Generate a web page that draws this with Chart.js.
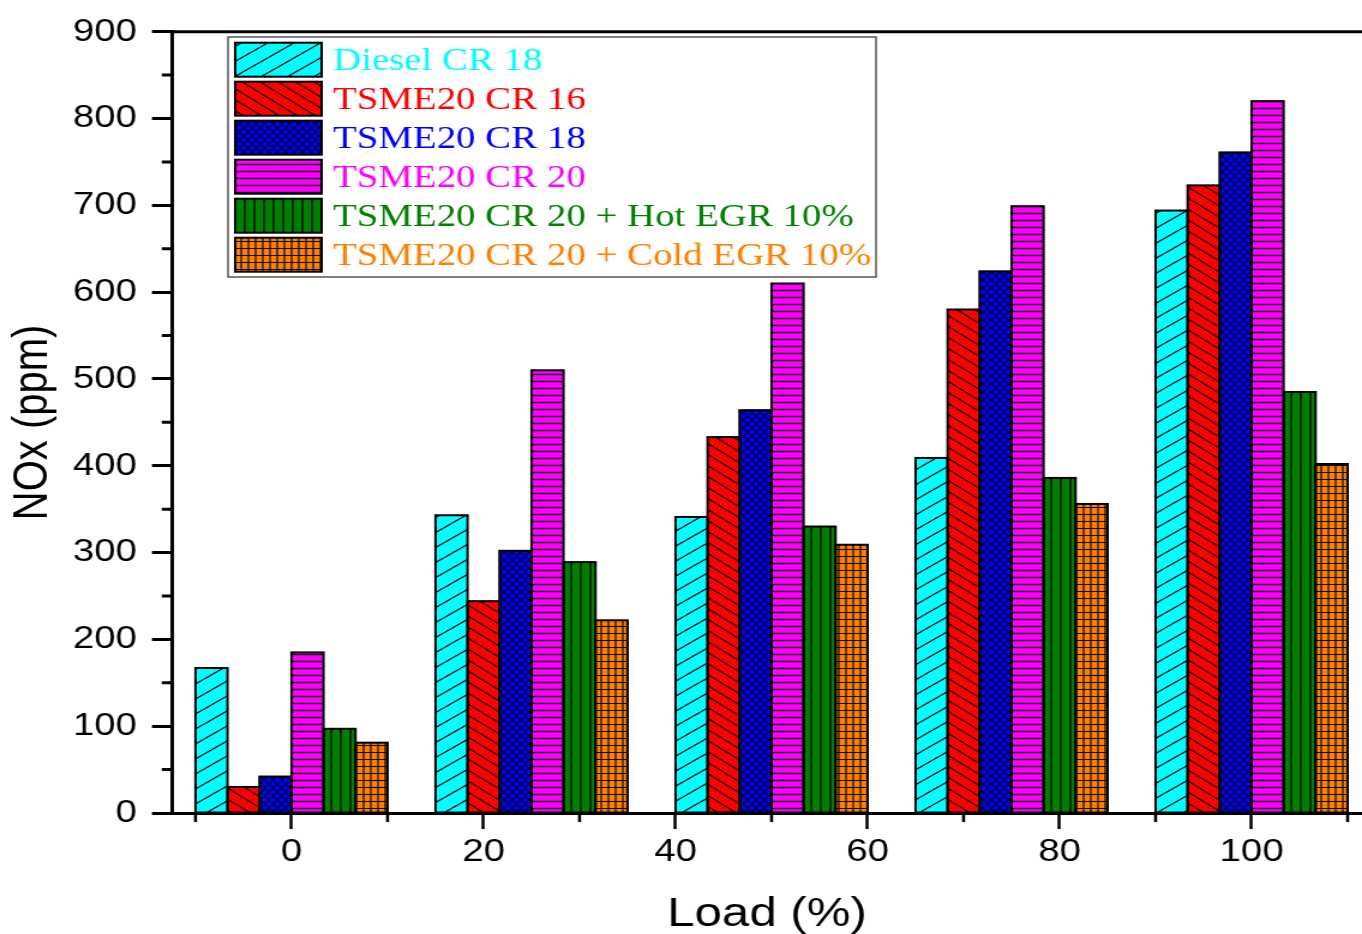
<!DOCTYPE html>
<html><head><meta charset="utf-8">
<script src="https://cdn.jsdelivr.net/npm/chart.js@4.4.0/dist/chart.umd.min.js"></script>
<style>
html,body{margin:0;padding:0;background:#fff;overflow:hidden}
#wrap{width:1135px;height:934px;transform:scale(1.2,1);transform-origin:0 0}
</style></head><body>
<div id="wrap"><canvas id="grafico" width="1135" height="934"></canvas></div>
<script>
// dados (NOx em ppm)
const cargas=[0,25,50,75,100];
const nomes=['Diesel CR 18','TSME20 CR 16','TSME20 CR 18','TSME20 CR 20','TSME20 CR 20 + Hot EGR 10%','TSME20 CR 20 + Cold EGR 10%'];
const dieselCR18=[167,343,341,409,694];
const tsmeCR16=[30,244,433,580,723];
const tsmeCR18=[42,302,464,624,761];
const tsmeCR20=[185,510,610,699,820];
const tsmeHotEGR=[97,289,330,386,485];
const tsmeColdEGR=[81,222,309,356,402];
const ticksX=[0,20,40,60,80,100];
const ticksY=[0,100,200,300,400,500,600,700,800,900];
const minorX=[-10,10,30,50,70,90,110];
const minorY=[50,150,250,350,450,550,650,750,850];

const cores=['#00ffff','#ff0000','#0000ff','#ff00ff','#008000','#ff8000'];

function hachura(cor,w,h,desenha,lw){
  const c=document.createElement('canvas');c.width=w;c.height=h;
  const g=c.getContext('2d');
  g.fillStyle=cor;g.fillRect(0,0,w,h);
  g.strokeStyle='#000';g.lineWidth=lw||1.15;
  g.beginPath();desenha(g,w,h);g.stroke();
  return g.createPattern(c,'repeat');
}
const barra=(g,w,h)=>{for(let dx=-w;dx<=w;dx+=w)for(let dy=-h;dy<=h;dy+=h){g.moveTo(dx,h+dy);g.lineTo(dx+w,dy);}};
const contra=(g,w,h)=>{for(let dx=-w;dx<=w;dx+=w)for(let dy=-h;dy<=h;dy+=h){g.moveTo(dx,dy);g.lineTo(dx+w,h+dy);}};
const padroes=[
  hachura(cores[0],22,15,barra),
  hachura(cores[1],15,11,contra),
  hachura(cores[2],7,8,(g,w,h)=>{barra(g,w,h);contra(g,w,h);}),
  hachura(cores[3],4,7,(g,w,h)=>{g.moveTo(0,3.5);g.lineTo(w,3.5);},1.4),
  hachura(cores[4],8,4,(g,w,h)=>{g.moveTo(4,0);g.lineTo(4,h);},1.3),
  hachura(cores[5],6,7,(g,w,h)=>{g.moveTo(3,0);g.lineTo(3,h);g.moveTo(0,3.5);g.lineTo(w,3.5);})
];

const valores=[dieselCR18,tsmeCR16,tsmeCR18,tsmeCR20,tsmeHotEGR,tsmeColdEGR];
const datasets=valores.map((v,i)=>({
  label:nomes[i],
  data:cargas.map((c,j)=>({x:c,y:v[j]})),
  backgroundColor:padroes[i],
  borderWidth:0,
  categoryPercentage:1.0,
  barPercentage:1.0
}));

const contornos={id:'contornos',afterDatasetsDraw(chart){
  const ctx=chart.ctx;ctx.save();ctx.strokeStyle='#000';ctx.lineWidth=2;
  chart.data.datasets.forEach((d,i)=>{
    chart.getDatasetMeta(i).data.forEach(b=>{
      const p=b.getProps(['x','y','base','width'],true);
      ctx.strokeRect(p.x-p.width/2,p.y,p.width,p.base-p.y);
    });
  });
  ctx.restore();
}};

const moldura={id:'moldura',afterDraw(chart){
  const ctx=chart.ctx,a=chart.chartArea,sx=chart.scales.x,sy=chart.scales.y;
  ctx.save();ctx.strokeStyle='#000';
  // linha superior
  ctx.lineWidth=3;ctx.beginPath();ctx.moveTo(a.left,a.top);ctx.lineTo(a.right,a.top);ctx.stroke();
  // ticks menores
  ctx.beginPath();
  minorY.forEach(v=>{const y=sy.getPixelForValue(v);ctx.moveTo(a.left-8.5,y);ctx.lineTo(a.left,y);});
  ctx.stroke();
  ctx.lineWidth=2.5;ctx.beginPath();
  minorX.forEach(v=>{const x=sx.getPixelForValue(v);ctx.moveTo(x,a.bottom);ctx.lineTo(x,a.bottom+9);});
  ctx.stroke();
  // legenda
  const L=190,T=37,R=730,B=277;
  ctx.fillStyle='#fff';ctx.fillRect(L,T,R-L,B-T);
  ctx.lineWidth=1.5;ctx.strokeStyle='#555';ctx.strokeRect(L,T,R-L,B-T);
  ctx.font='32.4px "Liberation Serif", "Times New Roman", serif';
  ctx.textBaseline='alphabetic';ctx.textAlign='left';
  chart.data.datasets.forEach((d,i)=>{
    const top=42.7+39*i;
    ctx.fillStyle=d.backgroundColor;ctx.fillRect(196,top,72,34);
    ctx.lineWidth=2;ctx.strokeStyle='#000';ctx.strokeRect(196,top,72,34);
    ctx.fillStyle=cores[i];ctx.fillText(d.label,277.5,top+27.3);
  });
  ctx.restore();
}};

const fonteEixo={family:'"Liberation Sans", Arial, sans-serif',size:32};
new Chart(document.getElementById('grafico'),{
  type:'bar',
  data:{datasets:datasets},
  plugins:[contornos,moldura],
  options:{
    responsive:false,animation:false,
    layout:{padding:{left:0,top:31,right:0,bottom:0}},
    plugins:{legend:{display:false},tooltip:{enabled:false}},
    scales:{
      x:{type:'linear',min:-12.45,max:111.5,offset:false,
        afterBuildTicks(s){s.ticks=ticksX.map(v=>({value:v}));},
        afterFit(s){s.height=121;},
        grid:{offset:false,drawOnChartArea:false,drawTicks:true,tickLength:16,tickWidth:2.5,tickColor:'#000'},
        border:{display:true,color:'#000',width:3},
        ticks:{color:'#000',font:fonteEixo,padding:4,includeBounds:false,maxRotation:0,autoSkip:false},
        title:{display:true,text:'Load (%)',color:'#000',font:{family:'"Liberation Sans", Arial, sans-serif',size:41,lineHeight:0.95},padding:{top:0,bottom:0}}
      },
      y:{type:'linear',min:0,max:900,
        afterBuildTicks(s){s.ticks=ticksY.map(v=>({value:v}));},
        afterFit(s){s.width=143.3;},
        grid:{drawOnChartArea:false,drawTicks:true,tickLength:16.7,tickWidth:3,tickColor:'#000'},
        border:{display:true,color:'#000',width:3},
        ticks:{color:'#000',font:fonteEixo,padding:12.5,includeBounds:false},
        title:{display:true,text:'NOx (ppm)',color:'#000',font:{family:'"Liberation Sans", Arial, sans-serif',size:40,lineHeight:1.2},padding:{top:4,bottom:0}}
      }
    }
  }
});
</script>
</body></html>
